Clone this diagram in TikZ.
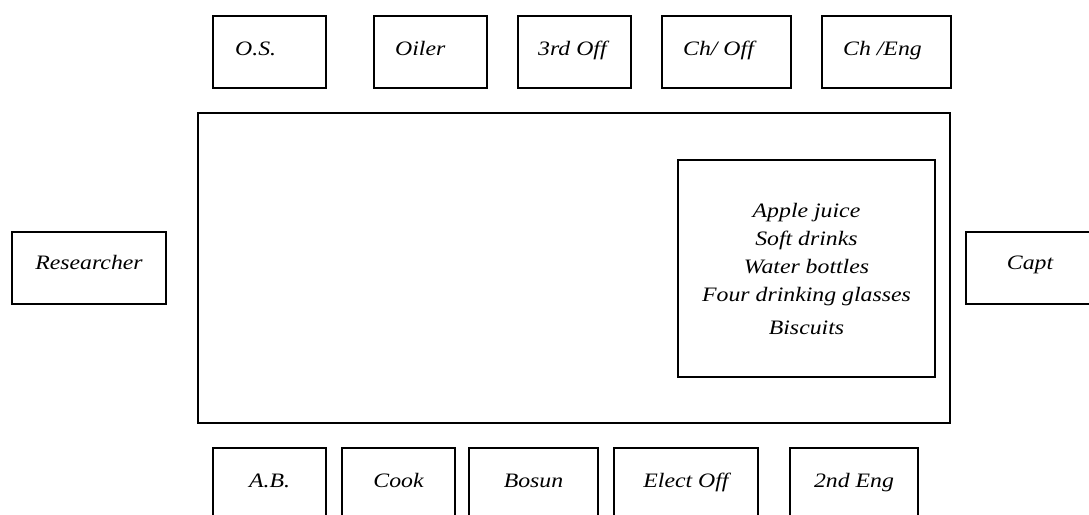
\documentclass[tikz,border=0pt]{standalone}
\usepackage{fontspec}
\setmainfont[FakeStretch=1.16]{Liberation Serif}
\begin{document}
\begin{tikzpicture}[x=1pt,y=-1pt,
  box/.style={draw, line width=1.3pt, rectangle, inner sep=0pt},
  lbl/.style={font=\fontsize{20.5}{28}\selectfont\itshape, inner sep=0pt}]
\useasboundingbox (0,0) rectangle (1089,514);
\clip (0,0) rectangle (1089,514);

% table and the tray of refreshments on it
\node[box, minimum width=752pt, minimum height=310pt] (table) at (574,268) {};
\node[box, minimum width=257pt, minimum height=217pt] (tray) at (806.5,268.5) {};
\node[lbl, anchor=north, align=center] (items) at (806.5,203)
  {Apple juice\\Soft drinks\\Water bottles\\Four drinking glasses\\[5pt]Biscuits};

% seats along the top edge
\node[box, minimum width=113pt, minimum height=72pt] (os)    at (269.5,52) {};
\node[box, minimum width=113pt, minimum height=72pt] (oiler) at (430.5,52) {};
\node[box, minimum width=113pt, minimum height=72pt] (third) at (574.5,52) {};
\node[box, minimum width=129pt, minimum height=72pt] (choff) at (726.5,52) {};
\node[box, minimum width=129pt, minimum height=72pt] (cheng) at (886.5,52) {};
\node[lbl, anchor=base west] (os-t)    at (235,55) {O.S.};
\node[lbl, anchor=base west] (oiler-t) at (395,55) {Oiler};
\node[lbl, anchor=base west] (third-t) at (538,55) {3rd Off};
\node[lbl, anchor=base west] (choff-t) at (683,55) {Ch/ Off};
\node[lbl, anchor=base west] (cheng-t) at (843,55) {Ch /Eng};

% seats at the two ends
\node[box, minimum width=154pt, minimum height=72pt] (res)  at (89,268) {};
\node[lbl, anchor=base] (res-t) at (89,269) {Researcher};
\node[box, minimum width=134pt, minimum height=72pt] (capt) at (1033,268) {};
\node[lbl, anchor=base] (capt-t) at (1030,269) {Capt};

% seats along the bottom edge
\node[box, minimum width=113pt, minimum height=100pt] (ab)    at (269.5,498) {};
\node[box, minimum width=113pt, minimum height=100pt] (cook)  at (398.5,498) {};
\node[box, minimum width=129pt, minimum height=100pt] (bosun) at (533.5,498) {};
\node[box, minimum width=144pt, minimum height=100pt] (eoff)  at (686,498) {};
\node[box, minimum width=128pt, minimum height=100pt] (seng)  at (854,498) {};
\node[lbl, anchor=base] (ab-t)    at (269.5,487) {A.B.};
\node[lbl, anchor=base] (cook-t)  at (398.5,487) {Cook};
\node[lbl, anchor=base] (bosun-t) at (533.5,487) {Bosun};
\node[lbl, anchor=base] (eoff-t)  at (686,487) {Elect Off};
\node[lbl, anchor=base] (seng-t)  at (854,487) {2nd Eng};
\end{tikzpicture}
\end{document}
